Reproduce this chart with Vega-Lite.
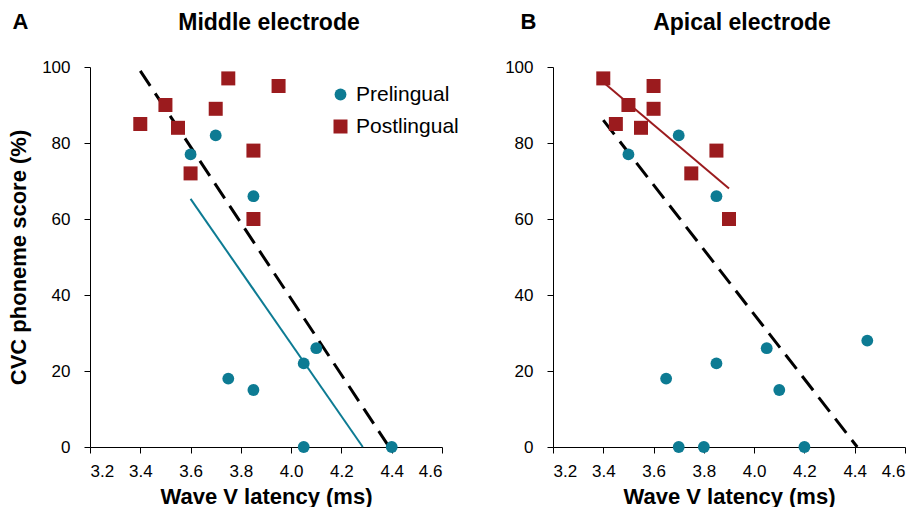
{
  "$schema": "https://vega.github.io/schema/vega-lite/v6.json",
  "padding": {"left": 7, "top": 10, "right": 5, "bottom": 0},
  "spacing": 45,
  "datasets": {
    "points": [
      {"panel": "A", "group": "Postlingual", "latency": 3.4, "score": 85},
      {"panel": "A", "group": "Postlingual", "latency": 3.5, "score": 90},
      {"panel": "A", "group": "Postlingual", "latency": 3.55, "score": 84},
      {"panel": "A", "group": "Postlingual", "latency": 3.6, "score": 72},
      {"panel": "A", "group": "Postlingual", "latency": 3.7, "score": 89},
      {"panel": "A", "group": "Postlingual", "latency": 3.75, "score": 97},
      {"panel": "A", "group": "Postlingual", "latency": 3.85, "score": 78},
      {"panel": "A", "group": "Postlingual", "latency": 3.85, "score": 60},
      {"panel": "A", "group": "Postlingual", "latency": 3.95, "score": 95},
      {"panel": "A", "group": "Prelingual", "latency": 3.6, "score": 77},
      {"panel": "A", "group": "Prelingual", "latency": 3.7, "score": 82},
      {"panel": "A", "group": "Prelingual", "latency": 3.85, "score": 66},
      {"panel": "A", "group": "Prelingual", "latency": 3.75, "score": 18},
      {"panel": "A", "group": "Prelingual", "latency": 3.85, "score": 15},
      {"panel": "A", "group": "Prelingual", "latency": 4.05, "score": 22},
      {"panel": "A", "group": "Prelingual", "latency": 4.1, "score": 26},
      {"panel": "A", "group": "Prelingual", "latency": 4.05, "score": 0},
      {"panel": "A", "group": "Prelingual", "latency": 4.4, "score": 0},
      {"panel": "B", "group": "Postlingual", "latency": 3.4, "score": 97},
      {"panel": "B", "group": "Postlingual", "latency": 3.45, "score": 85},
      {"panel": "B", "group": "Postlingual", "latency": 3.5, "score": 90},
      {"panel": "B", "group": "Postlingual", "latency": 3.55, "score": 84},
      {"panel": "B", "group": "Postlingual", "latency": 3.6, "score": 95},
      {"panel": "B", "group": "Postlingual", "latency": 3.6, "score": 89},
      {"panel": "B", "group": "Postlingual", "latency": 3.75, "score": 72},
      {"panel": "B", "group": "Postlingual", "latency": 3.85, "score": 78},
      {"panel": "B", "group": "Postlingual", "latency": 3.9, "score": 60},
      {"panel": "B", "group": "Prelingual", "latency": 3.5, "score": 77},
      {"panel": "B", "group": "Prelingual", "latency": 3.7, "score": 82},
      {"panel": "B", "group": "Prelingual", "latency": 3.85, "score": 66},
      {"panel": "B", "group": "Prelingual", "latency": 3.65, "score": 18},
      {"panel": "B", "group": "Prelingual", "latency": 3.85, "score": 22},
      {"panel": "B", "group": "Prelingual", "latency": 4.05, "score": 26},
      {"panel": "B", "group": "Prelingual", "latency": 4.1, "score": 15},
      {"panel": "B", "group": "Prelingual", "latency": 4.45, "score": 28},
      {"panel": "B", "group": "Prelingual", "latency": 3.7, "score": 0},
      {"panel": "B", "group": "Prelingual", "latency": 3.8, "score": 0},
      {"panel": "B", "group": "Prelingual", "latency": 4.2, "score": 0}
    ],
    "fits": [
      {"panel": "A", "fit": "All", "latency": 3.4, "score": 99},
      {"panel": "A", "fit": "All", "latency": 4.39, "score": 0},
      {"panel": "A", "fit": "Prelingual", "latency": 3.6, "score": 65.3},
      {"panel": "A", "fit": "Prelingual", "latency": 4.285, "score": 0},
      {"panel": "B", "fit": "All", "latency": 3.4, "score": 86},
      {"panel": "B", "fit": "All", "latency": 4.41, "score": 0},
      {"panel": "B", "fit": "Postlingual", "latency": 3.4, "score": 96},
      {"panel": "B", "fit": "Postlingual", "latency": 3.9, "score": 68}
    ]
  },
  "resolve": {
    "scale": {"color": "independent", "shape": "independent", "size": "independent"},
    "legend": {"color": "independent", "shape": "independent", "size": "independent"}
  },
  "hconcat": [
    {
      "width": 352,
      "height": 380,
      "title": {"text": "Middle electrode", "anchor": "middle", "dx": 3, "baseline": "alphabetic", "offset": -43},
      "resolve": {"axis": {"x": "independent"}},
      "layer": [
        {
          "data": {"name": "fits"},
          "transform": [{"filter": "datum.panel === 'A' && datum.fit === 'All'"}],
          "mark": {"type": "line", "color": "black", "strokeWidth": 3, "strokeDash": [18, 9], "strokeCap": "butt"},
          "encoding": {
            "x": {"field": "latency", "type": "quantitative", "scale": {"domain": [3.2, 4.6], "nice": false, "zero": false},
              "axis": {"orient": "top", "title": "A", "labels": false, "ticks": false, "domain": false, "titleX": -78, "titleY": -39, "titleAlign": "left", "titleBaseline": "alphabetic", "titleFontSize": 22}},
            "y": {"field": "score", "type": "quantitative", "scale": {"domain": [0, 100], "nice": false}}
          }
        },
        {
          "data": {"name": "fits"},
          "transform": [{"filter": "datum.panel === 'A' && datum.fit === 'Prelingual'"}],
          "mark": {"type": "line", "color": "#0d7b93", "strokeWidth": 2},
          "encoding": {
            "x": {"field": "latency", "type": "quantitative", "scale": {"domain": [3.2, 4.6], "nice": false, "zero": false}, "axis": null},
            "y": {"field": "score", "type": "quantitative", "scale": {"domain": [0, 100], "nice": false}}
          }
        },
        {
          "data": {"name": "points"},
          "transform": [{"filter": "datum.panel === 'A'"}],
          "mark": {"type": "point", "filled": true, "opacity": 1},
          "encoding": {
            "x": {"field": "latency", "type": "quantitative", "scale": {"domain": [3.2, 4.6], "nice": false, "zero": false},
              "axis": {"values": [3.2, 3.4, 3.6, 3.8, 4.0, 4.2, 4.4, 4.6], "format": ".1f", "title": "Wave V latency (ms)", "labelPadding": 10, "titlePadding": 7}},
            "y": {"field": "score", "type": "quantitative", "scale": {"domain": [0, 100], "nice": false},
              "axis": {"values": [0, 20, 40, 60, 80, 100], "title": "CVC phoneme score (%)", "labelPadding": 14, "titlePadding": 11}},
            "color": {"field": "group", "type": "nominal", "scale": {"domain": ["Prelingual", "Postlingual"], "range": ["#0d7b93", "#9b1b1e"]},
              "legend": {"title": null, "orient": "none", "legendX": 240, "legendY": 17, "labelFontSize": 21, "symbolSize": 170, "labelOffset": 5, "rowPadding": 10, "padding": 0, "labelColor": "black", "labelFont": "Liberation Sans"}},
            "shape": {"field": "group", "type": "nominal", "scale": {"domain": ["Prelingual", "Postlingual"], "range": ["circle", "square"]},
              "legend": {"title": null, "orient": "none", "legendX": 240, "legendY": 17, "labelFontSize": 21, "symbolSize": 170, "labelOffset": 5, "rowPadding": 10, "padding": 0, "labelColor": "black", "labelFont": "Liberation Sans"}},
            "size": {"field": "group", "type": "nominal", "scale": {"domain": ["Prelingual", "Postlingual"], "range": [140, 196]}, "legend": null}
          }
        }
      ]
    },
    {
      "width": 352,
      "height": 380,
      "title": {"text": "Apical electrode", "anchor": "middle", "dx": 13, "baseline": "alphabetic", "offset": -43},
      "resolve": {"axis": {"x": "independent"}},
      "layer": [
        {
          "data": {"name": "fits"},
          "transform": [{"filter": "datum.panel === 'B' && datum.fit === 'All'"}],
          "mark": {"type": "line", "color": "black", "strokeWidth": 3, "strokeDash": [18, 9], "strokeCap": "butt"},
          "encoding": {
            "x": {"field": "latency", "type": "quantitative", "scale": {"domain": [3.2, 4.6], "nice": false, "zero": false},
              "axis": {"orient": "top", "title": "B", "labels": false, "ticks": false, "domain": false, "titleX": -33, "titleY": -39, "titleAlign": "left", "titleBaseline": "alphabetic", "titleFontSize": 22}},
            "y": {"field": "score", "type": "quantitative", "scale": {"domain": [0, 100], "nice": false}}
          }
        },
        {
          "data": {"name": "fits"},
          "transform": [{"filter": "datum.panel === 'B' && datum.fit === 'Postlingual'"}],
          "mark": {"type": "line", "color": "#9b1b1e", "strokeWidth": 2},
          "encoding": {
            "x": {"field": "latency", "type": "quantitative", "scale": {"domain": [3.2, 4.6], "nice": false, "zero": false}, "axis": null},
            "y": {"field": "score", "type": "quantitative", "scale": {"domain": [0, 100], "nice": false}}
          }
        },
        {
          "data": {"name": "points"},
          "transform": [{"filter": "datum.panel === 'B'"}],
          "mark": {"type": "point", "filled": true, "opacity": 1},
          "encoding": {
            "x": {"field": "latency", "type": "quantitative", "scale": {"domain": [3.2, 4.6], "nice": false, "zero": false},
              "axis": {"values": [3.2, 3.4, 3.6, 3.8, 4.0, 4.2, 4.4, 4.6], "format": ".1f", "title": "Wave V latency (ms)", "labelPadding": 10, "titlePadding": 7}},
            "y": {"field": "score", "type": "quantitative", "scale": {"domain": [0, 100], "nice": false},
              "axis": {"values": [0, 20, 40, 60, 80, 100], "title": null, "labelPadding": 14}},
            "color": {"field": "group", "type": "nominal", "scale": {"domain": ["Prelingual", "Postlingual"], "range": ["#0d7b93", "#9b1b1e"]}, "legend": null},
            "shape": {"field": "group", "type": "nominal", "scale": {"domain": ["Prelingual", "Postlingual"], "range": ["circle", "square"]}, "legend": null},
            "size": {"field": "group", "type": "nominal", "scale": {"domain": ["Prelingual", "Postlingual"], "range": [140, 196]}, "legend": null}
          }
        }
      ]
    }
  ],
  "config": {
    "font": "Liberation Sans",
    "view": {"stroke": null},
    "axis": {
      "domainColor": "black", "tickColor": "black", "labelColor": "black", "titleColor": "black",
      "labelFont": "Liberation Sans", "titleFont": "Liberation Sans",
      "labelFontSize": 17, "titleFontSize": 22, "titleFontWeight": "bold",
      "grid": false, "tickSize": 6, "domainWidth": 1, "tickWidth": 1
    },
    "title": {"font": "Liberation Sans", "fontSize": 23, "fontWeight": "bold", "color": "black"}
  }
}
